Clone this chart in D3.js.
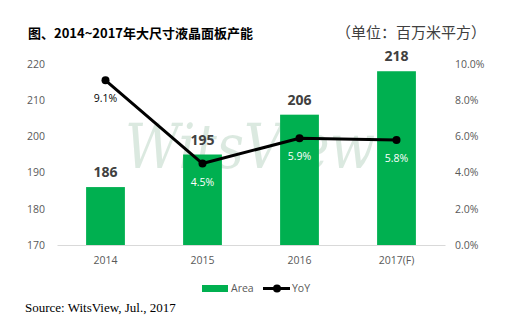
<!DOCTYPE html>
<html><head><meta charset="utf-8">
<script src="https://cdn.jsdelivr.net/npm/d3@7"></script>
<style>body{margin:0;background:#fff}svg{display:block}</style>
</head><body>
<svg id="c" width="516" height="326"></svg>
<script>
const categories = ["2014", "2015", "2016", "2017(F)"];
const areaValues = [186, 195, 206, 218];
const yoyValues = [9.1, 4.5, 5.9, 5.8];
const leftTicks = [170, 180, 190, 200, 210, 220];
const rightTicks = [0, 2, 4, 6, 8, 10];
const titleText = "图、2014~2017年大尺寸液晶面板产能";
const unitText = "（单位：百万米平方）";
const sourceText = "Source: WitsView, Jul., 2017";
const legendLabels = ["Area", "YoY"];

const svg = d3.select("#c");
const green = "#00B050";
const sans = "'Open Sans', sans-serif";
const m = {left: 57, right: 445, top: 64, bottom: 245};

const x = d3.scaleBand().domain(categories).range([m.left, m.right]).paddingInner(0.6).paddingOuter(0.3);
const yL = d3.scaleLinear().domain([170, 220]).range([m.bottom, m.top]);
const yR = d3.scaleLinear().domain([0, 10]).range([m.bottom, m.top]);

// title
svg.append("text").attr("x", 28).attr("y", 38).text(titleText)
  .attr("font-family", "'Noto Sans CJK SC', sans-serif").attr("font-weight", "bold")
  .attr("font-size", 13).attr("fill", "#000");
svg.append("text").attr("x", 486).attr("y", 38).attr("text-anchor", "end").text(unitText)
  .attr("font-family", "'Noto Sans CJK SC', sans-serif").attr("font-size", 15)
  .attr("fill", "#404040");

// watermark (behind marks)
svg.append("text").attr("x", 250).attr("y", 168).attr("text-anchor", "middle").text("WitsView")
  .attr("font-family", "'DejaVu Serif', serif").attr("font-style", "italic")
  .attr("font-size", 62).attr("fill", "#b9d4c2").attr("opacity", 0.5)
  .attr("textLength", 250).attr("lengthAdjust", "spacingAndGlyphs");

// left axis
const axL = svg.append("g").attr("transform", `translate(${m.left - 12},0)`)
  .call(d3.axisLeft(yL).tickValues(leftTicks).tickSize(0).tickPadding(0));
axL.select(".domain").remove();
axL.selectAll("text").attr("font-family", sans).attr("font-size", 10.5).attr("fill", "#595959");

// right axis
const axR = svg.append("g").attr("transform", `translate(${m.right + 10},0)`)
  .call(d3.axisRight(yR).tickValues(rightTicks).tickSize(0).tickPadding(0).tickFormat(d => d.toFixed(1) + "%"));
axR.select(".domain").remove();
axR.selectAll("text").attr("font-family", sans).attr("font-size", 10.5).attr("fill", "#595959");

// bottom axis
const axB = svg.append("g").attr("transform", `translate(0,${m.bottom})`)
  .call(d3.axisBottom(x).tickSize(0).tickPadding(12));
axB.select(".domain").attr("stroke", "#d9d9d9");
axB.selectAll("text").attr("font-family", sans).attr("font-size", 10.5).attr("fill", "#595959");

// bars
svg.append("g").selectAll("rect").data(areaValues).join("rect")
  .attr("x", (d, i) => x(categories[i])).attr("width", x.bandwidth())
  .attr("y", d => yL(d)).attr("height", d => yL(170) - yL(d)).attr("fill", green);

// bar labels
svg.append("g").selectAll("text").data(areaValues).join("text")
  .attr("x", (d, i) => x(categories[i]) + x.bandwidth() / 2).attr("y", d => yL(d) - 10)
  .attr("text-anchor", "middle").text(d => d)
  .attr("font-family", sans).attr("font-weight", "bold").attr("font-size", 14).attr("fill", "#404040");

// line
const cx = (d, i) => x(categories[i]) + x.bandwidth() / 2;
const line = d3.line().x((d, i) => cx(d, i)).y(d => yR(d));
svg.append("path").datum(yoyValues).attr("d", line).attr("fill", "none")
  .attr("stroke", "#000").attr("stroke-width", 3).attr("stroke-linejoin", "round");
svg.append("g").selectAll("circle").data(yoyValues).join("circle")
  .attr("cx", cx).attr("cy", d => yR(d)).attr("r", 4).attr("fill", "#000");

// yoy labels
svg.append("g").selectAll("text").data(yoyValues).join("text")
  .attr("x", cx).attr("y", d => yR(d) + 22).attr("text-anchor", "middle")
  .text(d => d.toFixed(1) + "%")
  .attr("font-family", sans).attr("font-size", 10.5)
  .attr("fill", (d, i) => (yR(d) + 17 > yL(areaValues[i])) ? "#fff" : "#000");

// legend
const lg = svg.append("g");
lg.append("rect").attr("x", 202).attr("y", 285).attr("width", 26).attr("height", 7).attr("fill", green);
lg.append("text").attr("x", 231).attr("y", 292).text(legendLabels[0])
  .attr("font-family", sans).attr("font-size", 10.5).attr("fill", "#595959");
lg.append("line").attr("x1", 263).attr("x2", 290).attr("y1", 288.5).attr("y2", 288.5)
  .attr("stroke", "#000").attr("stroke-width", 3);
lg.append("circle").attr("cx", 277).attr("cy", 288.5).attr("r", 4).attr("fill", "#000");
lg.append("text").attr("x", 292).attr("y", 292).text(legendLabels[1])
  .attr("font-family", sans).attr("font-size", 10.5).attr("fill", "#595959");

// source
svg.append("text").attr("x", 25).attr("y", 312).text(sourceText)
  .attr("font-family", "'Liberation Serif', serif").attr("font-size", 13).attr("fill", "#000");
</script>
</body></html>
